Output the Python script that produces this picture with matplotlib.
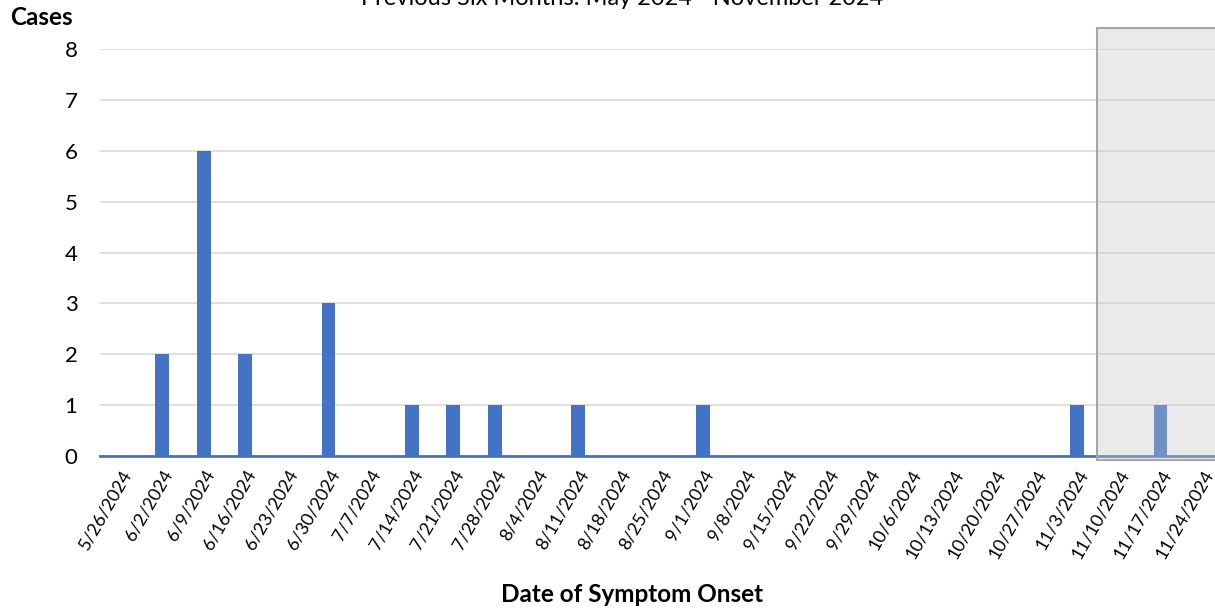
import numpy as np
import matplotlib.pyplot as plt
from matplotlib.patches import Rectangle

plt.rcParams['font.family'] = ['Lato', 'DejaVu Sans']

weeks = ['5/26/2024', '6/2/2024', '6/9/2024', '6/16/2024', '6/23/2024', '6/30/2024',
         '7/7/2024', '7/14/2024', '7/21/2024', '7/28/2024', '8/4/2024', '8/11/2024',
         '8/18/2024', '8/25/2024', '9/1/2024', '9/8/2024', '9/15/2024', '9/22/2024',
         '9/29/2024', '10/6/2024', '10/13/2024', '10/20/2024', '10/27/2024', '11/3/2024',
         '11/10/2024', '11/17/2024', '11/24/2024']
cases = [0, 2, 6, 2, 0, 3, 0, 1, 1, 1, 0, 1, 0, 0, 1, 0, 0, 0, 0, 0, 0, 0, 0, 1, 0, 1, 0]
shade_from = '11/10/2024'

fig = plt.figure(figsize=(12.15, 6.12), dpi=100)
ax = fig.add_axes([0.082, 0.2549, 0.918, 0.665])

x = np.arange(len(weeks))
ax.bar(x, cases, width=0.33, color='#4472C4', zorder=3)
ax.axhline(0, color='#4472C4', lw=2, zorder=4, clip_on=False)

ax.set_xlim(-0.5, 26.31)
ax.set_ylim(0, 8)
ax.set_yticks(range(0, 9))
ax.grid(axis='y', color='#D9D9D9', lw=1.2, zorder=0)
for s in ax.spines.values():
    s.set_visible(False)
ax.tick_params(axis='both', length=0)
ax.tick_params(axis='y', labelsize=16, pad=16)
ax.set_xticks(x)
ax.set_xticklabels(weeks, rotation=60, ha='right', rotation_mode='anchor', fontsize=13)
ax.tick_params(axis='x', pad=8)

# grey box over the incomplete weeks
i0 = weeks.index(shade_from) - 0.53
box = Rectangle((i0, -0.08), 10, 8.5, facecolor=(0.78, 0.78, 0.78, 0.36),
                edgecolor='#A6A6A6', lw=1.5, zorder=6, clip_on=False)
ax.add_patch(box)

fig.text(0.034, 0.972, 'Cases', fontsize=17.5, fontweight='bold', ha='center', va='center')
fig.text(0.52, 0.028, 'Date of Symptom Onset', fontsize=17.5, fontweight='bold', ha='center', va='center')
fig.text(0.512, 1 - 5 / 612, 'Previous Six Months: May 2024 - November 2024', fontsize=17,
         ha='center', va='baseline')

plt.savefig('out.png', dpi=100)
